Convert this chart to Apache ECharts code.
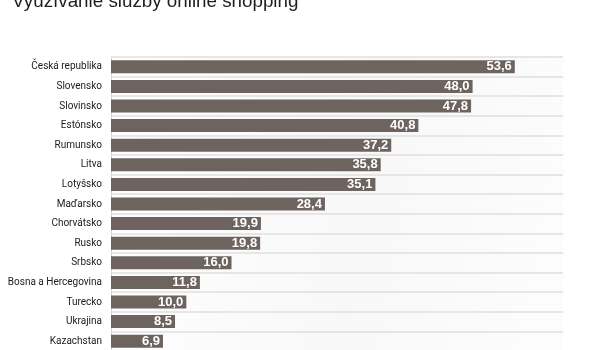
<!DOCTYPE html>
<html><head><meta charset="utf-8">
<script src="https://cdn.jsdelivr.net/npm/echarts@6/dist/echarts.min.js"></script>
<style>html,body{margin:0;padding:0;background:#fff}#c{width:600px;height:350px}</style>
</head><body><div id="c"></div>
<script>
const titleText = 'Využívanie služby online shopping';
const categories = ['Česká republika','Slovensko','Slovinsko','Estónsko','Rumunsko','Litva','Lotyšsko','Maďarsko','Chorvátsko','Rusko','Srbsko','Bosna a Hercegovina','Turecko','Ukrajina','Kazachstan'];
const values = [53.6,48.0,47.8,40.8,37.2,35.8,35.1,28.4,19.9,19.8,16.0,11.8,10.0,8.5,6.9];

const chart = echarts.init(document.getElementById('c'), null, {renderer:'canvas'});
chart.setOption({
  animation:false,
  backgroundColor:'#fff',
  title:{text:titleText,left:7,top:-13,textStyle:{fontFamily:'Liberation Sans',fontSize:18.8,fontWeight:'normal',color:'#1e1e1e'}},
  grid:{left:111,right:37,top:57,bottom:-1,show:true,borderWidth:0,containLabel:false,outerBoundsMode:'none',
    backgroundColor:{type:'linear',x:0,y:0,x2:1,y2:0.3,colorStops:[{offset:0,color:'#ffffff'},{offset:0.6,color:'#f8f8f8'},{offset:1,color:'#fcfcfc'}]}},
  xAxis:{type:'value',min:0,max:60,show:false},
  yAxis:{type:'category',data:categories,inverse:true,
    axisLine:{show:true,lineStyle:{color:'#d4d4d4',width:1}},
    axisTick:{show:false},
    splitLine:{show:true,lineStyle:{color:'#dfdfdf',width:1.5}},
    axisLabel:{margin:9,fontFamily:'Roboto',fontSize:10,color:'#1a1a1a'}},
  series:[{type:'bar',data:values,barWidth:13,itemStyle:{color:'#6d6460'},
    label:{show:true,position:'insideRight',distance:3,color:'#fff',fontWeight:'bold',fontFamily:'Liberation Sans',fontSize:13,
      formatter:p=>p.value.toFixed(1).replace('.',',')}}]
});
</script></body></html>
